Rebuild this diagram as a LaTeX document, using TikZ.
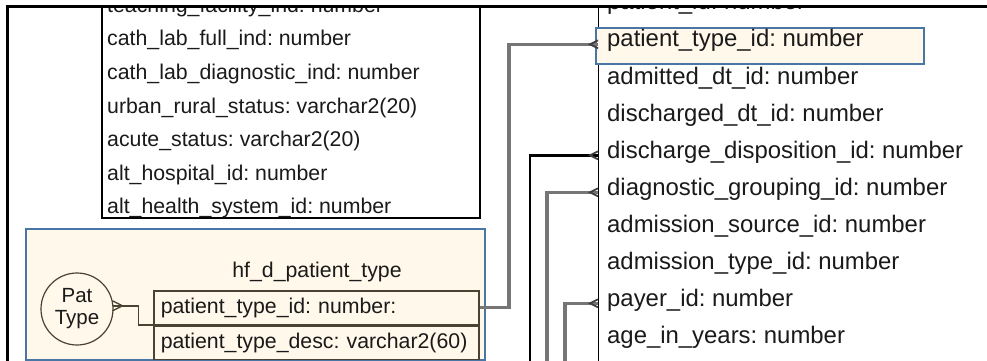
\documentclass[tikz,border=0pt]{standalone}
\usepackage{fontspec}
\setmainfont{Liberation Sans}
\usetikzlibrary{calc}
\definecolor{txt}{HTML}{1A1A1A}
\definecolor{cream}{HTML}{FFF8EB}
\definecolor{bluebd}{HTML}{4A76A6}
\definecolor{brownbd}{HTML}{4B4234}
\definecolor{linkgray}{HTML}{767676}
\tikzset{
  lrow/.style={anchor=base west, inner sep=0pt, text=txt, font=\fontsize{21.3}{24}\selectfont\frenchspacing},
  rrow/.style={anchor=base west, inner sep=0pt, text=txt, font=\fontsize{23.9}{28}\selectfont\frenchspacing},
  tablebox/.style={draw=black, line width=1.6pt, rectangle, inner sep=0pt},
  subrow/.style={draw=brownbd, line width=1.5pt, rectangle, minimum width=325pt, minimum height=33.5pt,
    inner xsep=7pt, text width=311pt, align=left, text=txt, font=\fontsize{21.3}{24}\selectfont\frenchspacing},
  fkgray/.style={draw=linkgray, line width=3.2pt},
  fkblack/.style={draw=black, line width=2.4pt},
  crowtip/.style={draw=black!75, line width=1.8pt},
}
\begin{document}
\begin{tikzpicture}[x=1pt,y=-1pt]
\useasboundingbox (0,0) rectangle (987,361);
\fill[white] (0,0) rectangle (987,361);
\begin{scope}
\clip (7.5,7.5) rectangle (987,361);

% hospital table (upper part cut off)
\node[tablebox, minimum width=378pt, minimum height=260pt, anchor=south west] (hosp) at (101,219) {};
\node[lrow] (h0) at (107,12.5) {teaching\_facility\_ind: number};
\node[lrow] (h1) at (107,46) {cath\_lab\_full\_ind: number};
\node[lrow] (h2) at (107,79.5) {cath\_lab\_diagnostic\_ind: number};
\node[lrow] (h3) at (107,113) {urban\_rural\_status: varchar2(20)};
\node[lrow] (h4) at (107,146.5) {acute\_status: varchar2(20)};
\node[lrow] (h5) at (107,180) {alt\_hospital\_id: number};
\node[lrow] (h6) at (107,213.5) {alt\_health\_system\_id: number};

% patient type entity
\node[draw=bluebd, fill=cream, line width=1.5pt, rectangle, minimum width=459pt, minimum height=131pt,
  anchor=north west, inner sep=0pt] (ptbox) at (25,228) {};
\node[anchor=base, inner sep=0pt, text=txt, font=\fontsize{21.3}{24}\selectfont] (pttitle) at (317,277) {hf\_d\_patient\_type};
\node[subrow, anchor=north west] (ptr1) at (153,290) {patient\_type\_id: number:};
\node[subrow, anchor=north west] (ptr2) at (ptr1.south west) {patient\_type\_desc: varchar2(60)};
\node[circle, draw=brownbd, line width=1.2pt, minimum size=72pt, inner sep=0pt, align=center,
  text=txt, font=\fontsize{20.5}{22}\selectfont] (patc) at (77,309) {Pat\\Type};

% fact table (left edge only)
\node[tablebox, line width=1.4pt, minimum width=500pt, minimum height=420pt, anchor=north west] (fact) at (598,-30) {};
\node[draw=bluebd, fill=cream, line width=2pt, rectangle, inner sep=0pt, minimum width=328pt, minimum height=36pt,
  anchor=north west] (hl) at (595,27) {};
\node[rrow] (f0) at (607,10) {patient\_id: number};
\node[rrow] (f1) at (607,47) {patient\_type\_id: number};
\node[rrow] (f2) at (607,84) {admitted\_dt\_id: number};
\node[rrow] (f3) at (607,121) {discharged\_dt\_id: number};
\node[rrow] (f4) at (607,158) {discharge\_disposition\_id: number};
\node[rrow] (f5) at (607,195) {diagnostic\_grouping\_id: number};
\node[rrow] (f6) at (607,232) {admission\_source\_id: number};
\node[rrow] (f7) at (607,269) {admission\_type\_id: number};
\node[rrow] (f8) at (607,306) {payer\_id: number};
\node[rrow] (f9) at (607,343) {age\_in\_years: number};

% attachment points on the fact table border
\coordinate (k1) at (fact.west |- f1.mid);
\coordinate (k4) at (fact.west |- f4.mid);
\coordinate (k5) at (fact.west |- f5.mid);
\coordinate (k8) at (fact.west |- f8.mid);
\coordinate (j1) at (509,0 |- k1);
\coordinate (e4) at (530,370);
\coordinate (e5) at (547,370);
\coordinate (e8) at (565,370);

% connectors
\draw[fkgray] (ptr1.east) -| (j1) -- (k1);
\draw[fkblack] (e4) |- (k4);
\draw[fkgray] (e5) |- (k5);
\draw[fkgray] (e8) |- (k8);
\foreach \k in {k1,k4,k5,k8}
  \draw[crowtip] ($(\k)+(0,-4)$) -- ($(\k)+(-8,0)$) -- ($(\k)+(0,4)$);

% subject area link
\coordinate (c0) at (patc.5);
\draw[draw=brownbd, line width=1.4pt] (c0) -- ++(25,0) |- (ptr1.south west);
\draw[draw=brownbd, line width=1.4pt] ($(c0)+(-1,-5)$) -- ($(c0)+(9,0)$) -- ($(c0)+(-1,5)$);
\end{scope}

% outer frame
\draw[black, line width=2.5pt] (7.5,361) -- (7.5,6.5) -- (987,6.5);
\end{tikzpicture}
\end{document}
